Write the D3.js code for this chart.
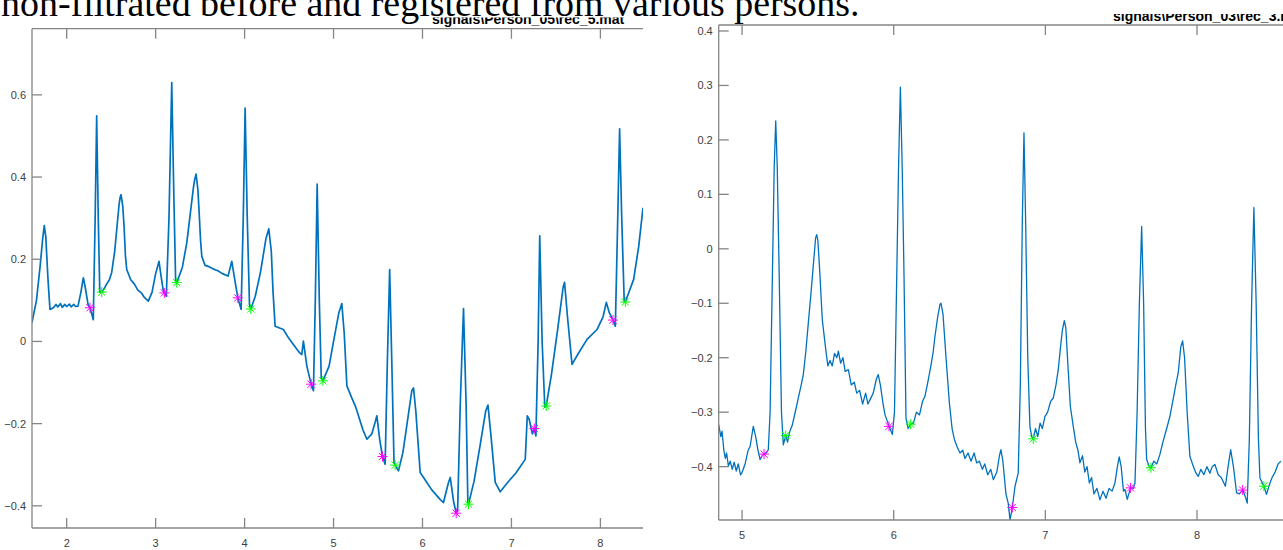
<!DOCTYPE html>
<html>
<head>
<meta charset="utf-8">
<script src="https://cdn.jsdelivr.net/npm/d3@7"></script>
<style>
  body { margin: 0; background: #fff; }
  svg { display: block; }
</style>
</head>
<body>
<div id="visualization"></div>
<script>
// Left panel signal, [time, value]
const leftSignal = [
  [1.610, 0.046], [1.660, 0.100], [1.700, 0.180], [1.730, 0.250], [1.748, 0.282], [1.765, 0.255],
  [1.790, 0.150], [1.812, 0.078], [1.850, 0.082], [1.880, 0.090], [1.900, 0.084], [1.930, 0.092],
  [1.950, 0.083], [1.980, 0.090], [2.000, 0.085], [2.030, 0.091], [2.050, 0.084], [2.080, 0.090],
  [2.100, 0.085], [2.127, 0.086], [2.160, 0.120], [2.187, 0.155], [2.210, 0.130], [2.240, 0.090],
  [2.262, 0.082], [2.290, 0.060], [2.299, 0.053], [2.320, 0.300], [2.337, 0.549], [2.355, 0.300],
  [2.372, 0.120], [2.394, 0.120], [2.420, 0.128], [2.450, 0.140], [2.480, 0.150], [2.506, 0.168],
  [2.540, 0.220], [2.570, 0.290], [2.590, 0.335], [2.600, 0.350], [2.611, 0.357], [2.630, 0.330],
  [2.645, 0.280], [2.660, 0.210], [2.675, 0.175], [2.720, 0.150], [2.760, 0.140], [2.800, 0.125],
  [2.840, 0.118], [2.870, 0.108], [2.918, 0.098], [2.960, 0.120], [3.000, 0.165], [3.038, 0.195],
  [3.060, 0.160], [3.085, 0.125], [3.098, 0.118], [3.120, 0.110], [3.150, 0.300], [3.181, 0.630],
  [3.205, 0.350], [3.225, 0.145], [3.237, 0.143], [3.300, 0.180], [3.350, 0.240], [3.400, 0.330],
  [3.425, 0.375], [3.440, 0.395], [3.454, 0.407], [3.475, 0.370], [3.490, 0.310], [3.505, 0.245],
  [3.519, 0.207], [3.556, 0.185], [3.600, 0.182], [3.650, 0.176], [3.700, 0.172], [3.750, 0.165],
  [3.814, 0.159], [3.856, 0.195], [3.890, 0.150], [3.924, 0.106], [3.961, 0.078], [3.985, 0.300],
  [4.006, 0.568], [4.030, 0.300], [4.055, 0.090], [4.070, 0.079], [4.120, 0.110], [4.180, 0.170],
  [4.240, 0.250], [4.272, 0.274], [4.300, 0.220], [4.320, 0.120], [4.343, 0.037], [4.436, 0.029],
  [4.490, 0.010], [4.540, -0.005], [4.620, -0.028], [4.643, -0.032], [4.661, 0.001], [4.700, -0.060],
  [4.748, -0.104], [4.774, -0.120], [4.795, 0.100], [4.816, 0.383], [4.840, 0.100], [4.862, -0.090],
  [4.880, -0.096], [4.950, -0.060], [5.000, 0.000], [5.060, 0.070], [5.093, 0.092], [5.120, 0.020],
  [5.150, -0.108], [5.200, -0.135], [5.250, -0.160], [5.330, -0.215], [5.375, -0.238], [5.430, -0.225],
  [5.470, -0.195], [5.487, -0.181], [5.520, -0.240], [5.550, -0.280], [5.580, -0.299], [5.605, -0.050],
  [5.631, 0.175], [5.655, -0.050], [5.680, -0.295], [5.693, -0.301], [5.730, -0.315], [5.780, -0.270],
  [5.840, -0.180], [5.880, -0.120], [5.899, -0.113], [5.925, -0.170], [5.974, -0.319], [6.040, -0.340],
  [6.100, -0.360], [6.200, -0.385], [6.236, -0.392], [6.290, -0.345], [6.312, -0.331], [6.350, -0.390],
  [6.379, -0.418], [6.395, -0.410], [6.425, -0.150], [6.461, 0.080], [6.490, -0.150], [6.510, -0.390],
  [6.517, -0.396], [6.580, -0.340], [6.650, -0.250], [6.710, -0.170], [6.736, -0.155], [6.770, -0.230],
  [6.818, -0.343], [6.874, -0.366], [6.950, -0.345], [7.050, -0.320], [7.155, -0.287], [7.178, -0.181],
  [7.200, -0.190], [7.235, -0.225], [7.257, -0.212], [7.275, -0.230], [7.300, 0.000], [7.318, 0.257],
  [7.345, 0.000], [7.375, -0.160], [7.391, -0.157], [7.450, -0.080], [7.520, 0.030], [7.580, 0.130],
  [7.597, 0.144], [7.630, 0.060], [7.681, -0.056], [7.750, -0.030], [7.850, 0.005], [7.962, 0.029],
  [8.030, 0.060], [8.067, 0.095], [8.100, 0.070], [8.142, 0.052], [8.168, 0.037], [8.190, 0.250],
  [8.216, 0.517], [8.240, 0.300], [8.268, 0.096], [8.280, 0.096], [8.374, 0.151], [8.430, 0.230],
  [8.479, 0.325]
];
const leftQ = [[2.262, 0.082], [3.098, 0.118], [3.924, 0.106], [4.748, -0.104], [5.550, -0.280], [6.379, -0.418], [7.257, -0.212], [8.142, 0.052]];
const leftS = [[2.394, 0.120], [3.237, 0.143], [4.070, 0.079], [4.880, -0.096], [5.693, -0.301], [6.517, -0.396], [7.391, -0.157], [8.280, 0.096]];
const leftXTicks = [2, 3, 4, 5, 6, 7, 8];
const leftYTicks = [-0.4, -0.2, 0, 0.2, 0.4, 0.6];

// Right panel signal
const rightSignal = [
  [4.846, -0.323], [4.860, -0.345], [4.868, -0.335], [4.880, -0.370], [4.890, -0.385], [4.898, -0.375],
  [4.910, -0.399], [4.922, -0.390], [4.935, -0.405], [4.948, -0.392], [4.962, -0.408], [4.975, -0.395],
  [4.990, -0.415], [4.998, -0.412], [5.020, -0.395], [5.040, -0.370], [5.053, -0.363], [5.074, -0.326],
  [5.090, -0.345], [5.105, -0.370], [5.119, -0.387], [5.132, -0.380], [5.145, -0.377], [5.160, -0.375],
  [5.173, -0.369], [5.185, -0.300], [5.200, -0.050], [5.212, 0.150], [5.222, 0.235], [5.232, 0.150],
  [5.245, -0.050], [5.260, -0.300], [5.272, -0.360], [5.288, -0.343], [5.300, -0.355], [5.315, -0.335],
  [5.330, -0.325], [5.349, -0.302], [5.370, -0.275], [5.390, -0.250], [5.404, -0.231], [5.420, -0.190],
  [5.437, -0.136], [5.455, -0.080], [5.470, -0.030], [5.485, 0.020], [5.492, 0.026], [5.500, 0.015],
  [5.512, -0.040], [5.529, -0.130], [5.552, -0.185], [5.566, -0.215], [5.580, -0.205], [5.595, -0.215],
  [5.610, -0.192], [5.625, -0.200], [5.635, -0.188], [5.650, -0.210], [5.665, -0.200], [5.680, -0.225],
  [5.701, -0.222], [5.720, -0.250], [5.740, -0.245], [5.756, -0.265], [5.775, -0.260], [5.795, -0.285],
  [5.815, -0.265], [5.830, -0.285], [5.844, -0.277], [5.865, -0.265], [5.885, -0.240], [5.898, -0.231],
  [5.912, -0.250], [5.930, -0.285], [5.943, -0.305], [5.969, -0.326], [5.991, -0.341], [6.005, -0.300],
  [6.020, -0.050], [6.032, 0.150], [6.044, 0.297], [6.056, 0.150], [6.068, -0.050], [6.081, -0.311],
  [6.095, -0.330], [6.112, -0.322], [6.130, -0.320], [6.150, -0.300], [6.170, -0.305], [6.190, -0.280],
  [6.206, -0.271], [6.225, -0.245], [6.245, -0.215], [6.260, -0.190], [6.272, -0.161], [6.290, -0.125],
  [6.305, -0.102], [6.312, -0.100], [6.325, -0.120], [6.345, -0.200], [6.367, -0.283], [6.385, -0.330],
  [6.400, -0.350], [6.420, -0.365], [6.437, -0.375], [6.455, -0.370], [6.470, -0.385], [6.490, -0.375],
  [6.510, -0.390], [6.530, -0.375], [6.547, -0.393], [6.565, -0.390], [6.585, -0.405], [6.600, -0.395],
  [6.620, -0.415], [6.640, -0.405], [6.657, -0.424], [6.680, -0.410], [6.697, -0.380], [6.707, -0.369],
  [6.720, -0.390], [6.740, -0.450], [6.755, -0.467], [6.767, -0.498], [6.782, -0.475], [6.800, -0.436],
  [6.821, -0.412], [6.835, -0.250], [6.848, 0.050], [6.859, 0.213], [6.870, 0.050], [6.884, -0.200],
  [6.898, -0.326], [6.910, -0.345], [6.920, -0.349], [6.935, -0.330], [6.950, -0.345], [6.965, -0.320],
  [6.980, -0.330], [6.997, -0.308], [7.015, -0.300], [7.035, -0.280], [7.052, -0.274], [7.070, -0.250],
  [7.085, -0.222], [7.100, -0.180], [7.112, -0.150], [7.125, -0.132], [7.135, -0.145], [7.150, -0.220],
  [7.165, -0.290], [7.184, -0.326], [7.200, -0.355], [7.215, -0.370], [7.228, -0.393], [7.245, -0.380],
  [7.260, -0.410], [7.275, -0.400], [7.290, -0.430], [7.305, -0.420], [7.320, -0.450], [7.340, -0.440],
  [7.360, -0.461], [7.380, -0.445], [7.400, -0.458], [7.420, -0.440], [7.440, -0.445], [7.459, -0.430],
  [7.475, -0.400], [7.487, -0.382], [7.500, -0.400], [7.515, -0.445], [7.525, -0.442], [7.540, -0.460],
  [7.562, -0.439], [7.580, -0.440], [7.591, -0.430], [7.605, -0.300], [7.620, -0.100], [7.635, 0.041],
  [7.648, -0.100], [7.660, -0.330], [7.668, -0.387], [7.685, -0.400], [7.696, -0.402], [7.715, -0.390],
  [7.735, -0.395], [7.755, -0.378], [7.775, -0.355], [7.800, -0.330], [7.821, -0.308], [7.840, -0.280],
  [7.860, -0.250], [7.876, -0.228], [7.893, -0.180], [7.905, -0.169], [7.918, -0.200], [7.935, -0.300],
  [7.953, -0.381], [7.970, -0.395], [7.990, -0.410], [8.008, -0.418], [8.025, -0.405], [8.045, -0.415],
  [8.065, -0.400], [8.085, -0.412], [8.100, -0.400], [8.118, -0.396], [8.140, -0.415], [8.160, -0.420],
  [8.187, -0.436], [8.205, -0.400], [8.222, -0.369], [8.240, -0.400], [8.261, -0.448], [8.280, -0.450],
  [8.301, -0.443], [8.318, -0.455], [8.331, -0.467], [8.345, -0.350], [8.360, -0.100], [8.375, 0.076],
  [8.390, -0.100], [8.405, -0.350], [8.415, -0.421], [8.441, -0.436], [8.458, -0.451], [8.475, -0.435],
  [8.495, -0.420], [8.515, -0.410], [8.535, -0.395], [8.553, -0.390]
];
const rightQ = [[5.145, -0.377], [5.969, -0.326], [6.782, -0.475], [7.562, -0.439], [8.301, -0.443]];
const rightS = [[5.288, -0.343], [6.112, -0.322], [6.920, -0.349], [7.696, -0.402], [8.441, -0.436]];
const rightXTicks = [5, 6, 7, 8];
const rightYTicks = [-0.4, -0.3, -0.2, -0.1, 0, 0.1, 0.2, 0.3, 0.4];

const width = 1283;
const height = 550;

const svg = d3
  .select("#visualization")
  .append("svg")
  .attr("width", width)
  .attr("height", height);

// asterisk marker like matlab '*'
function star(r) {
  const d = r * 0.72;
  return `M${-r},0L${r},0M0,${-r}L0,${r}M${-d},${-d}L${d},${d}M${-d},${d}L${d},${-d}`;
}

function drawPanel(p) {
  const x = d3.scaleLinear().domain(p.xDomain).range([p.left, p.right]);
  const y = d3.scaleLinear().domain(p.yDomain).range([p.bottom, p.top]);
  const g = svg.append("g");

  g.append("clipPath")
    .attr("id", p.id)
    .append("rect")
    .attr("x", p.left)
    .attr("y", p.top)
    .attr("width", p.right - p.left)
    .attr("height", p.bottom - p.top);

  const line = d3.line().x((d) => x(d[0])).y((d) => y(d[1]));

  g.append("path")
    .datum(p.signal)
    .attr("clip-path", `url(#${p.id})`)
    .attr("fill", "none")
    .attr("stroke", "#0072BD")
    .attr("stroke-width", p.lineWidth)
    .attr("stroke-linejoin", "round")
    .attr("d", line);

  const marks = [
    { pts: p.q, color: "#ff00ff" },
    { pts: p.s, color: "#00ff00" }
  ];
  marks.forEach((m) => {
    g.selectAll(null)
      .data(m.pts)
      .enter()
      .append("path")
      .attr("transform", (d) => `translate(${x(d[0])},${y(d[1])})`)
      .attr("d", star(5))
      .attr("fill", "none")
      .attr("stroke", m.color)
      .attr("stroke-width", 1);
  });

  const tickLen = 10;
  const axisColor = "#858585";
  const labelColor = "#404040";

  // box lines
  const box = g.append("g").attr("stroke", axisColor).attr("stroke-width", 1.3).attr("fill", "none");
  box.append("line").attr("x1", p.left).attr("x2", p.left).attr("y1", p.top).attr("y2", p.bottom);
  box.append("line").attr("x1", p.left).attr("x2", p.right).attr("y1", p.top).attr("y2", p.top);
  box.append("line").attr("x1", p.left).attr("x2", p.right).attr("y1", p.bottom).attr("y2", p.bottom);

  // x ticks (bottom and top, pointing in)
  p.xTicks.forEach((t) => {
    const px = x(t);
    box.append("line").attr("x1", px).attr("x2", px).attr("y1", p.bottom).attr("y2", p.bottom - tickLen);
    box.append("line").attr("x1", px).attr("x2", px).attr("y1", p.top).attr("y2", p.top + tickLen);
  });
  g.selectAll(null)
    .data(p.xTicks)
    .enter()
    .append("text")
    .attr("x", (d) => x(d))
    .attr("y", p.bottom + 19)
    .attr("text-anchor", "middle")
    .attr("font-family", "Liberation Sans, Arial, sans-serif")
    .attr("font-size", "11px")
    .attr("fill", labelColor)
    .text((d) => d);

  // y ticks
  p.yTicks.forEach((t) => {
    const py = y(t);
    box.append("line").attr("x1", p.left).attr("x2", p.left + tickLen).attr("y1", py).attr("y2", py);
  });
  g.selectAll(null)
    .data(p.yTicks)
    .enter()
    .append("text")
    .attr("x", p.left - 6)
    .attr("y", (d) => y(d) + 4)
    .attr("text-anchor", "end")
    .attr("font-family", "Liberation Sans, Arial, sans-serif")
    .attr("font-size", "11px")
    .attr("fill", labelColor)
    .text((d) => (d === 0 ? "0" : d3.format(".1f")(d)));

  // title, cut at the top by the document text
  g.append("clipPath")
    .attr("id", p.id + "t")
    .append("rect")
    .attr("x", 0)
    .attr("y", p.titleClip)
    .attr("width", width)
    .attr("height", 30);
  g.append("text")
    .attr("clip-path", `url(#${p.id}t)`)
    .attr("x", p.titleX)
    .attr("y", p.titleY)
    .attr("font-family", "Liberation Sans, Arial, sans-serif")
    .attr("font-size", "14px")
    .attr("font-weight", "bold")
    .attr("fill", "#000")
    .text(p.title);
}

drawPanel({
  id: "clipL",
  signal: leftSignal, q: leftQ, s: leftS,
  xTicks: leftXTicks, yTicks: leftYTicks,
  xDomain: [1.61, 8.479], yDomain: [-0.454, 0.761],
  left: 32, right: 643, top: 28.7, bottom: 528, lineWidth: 1.7,
  title: "signals\\Person_05\\rec_5.mat", titleX: 432, titleY: 24, titleClip: 17.5
});

drawPanel({
  id: "clipR",
  signal: rightSignal, q: rightQ, s: rightS,
  xTicks: rightXTicks, yTicks: rightYTicks,
  xDomain: [4.846, 8.567], yDomain: [-0.498, 0.411],
  left: 718.7, right: 1283, top: 25, bottom: 520, lineWidth: 1.3,
  title: "signals\\Person_03\\rec_3.mat", titleX: 1113, titleY: 21, titleClip: 14
});

// caption text of the document above the figure
const caption = svg
  .append("text")
  .attr("x", 1)
  .attr("y", 16)
  .attr("font-family", "Liberation Serif, Times New Roman, serif")
  .attr("font-size", "36px")
  .attr("fill", "#000")
  .text("non-filtrated before and registered from various persons.");
const w = caption.node().getComputedTextLength();
caption.attr("font-size", (36 * 859) / w + "px");
</script>
</body>
</html>
